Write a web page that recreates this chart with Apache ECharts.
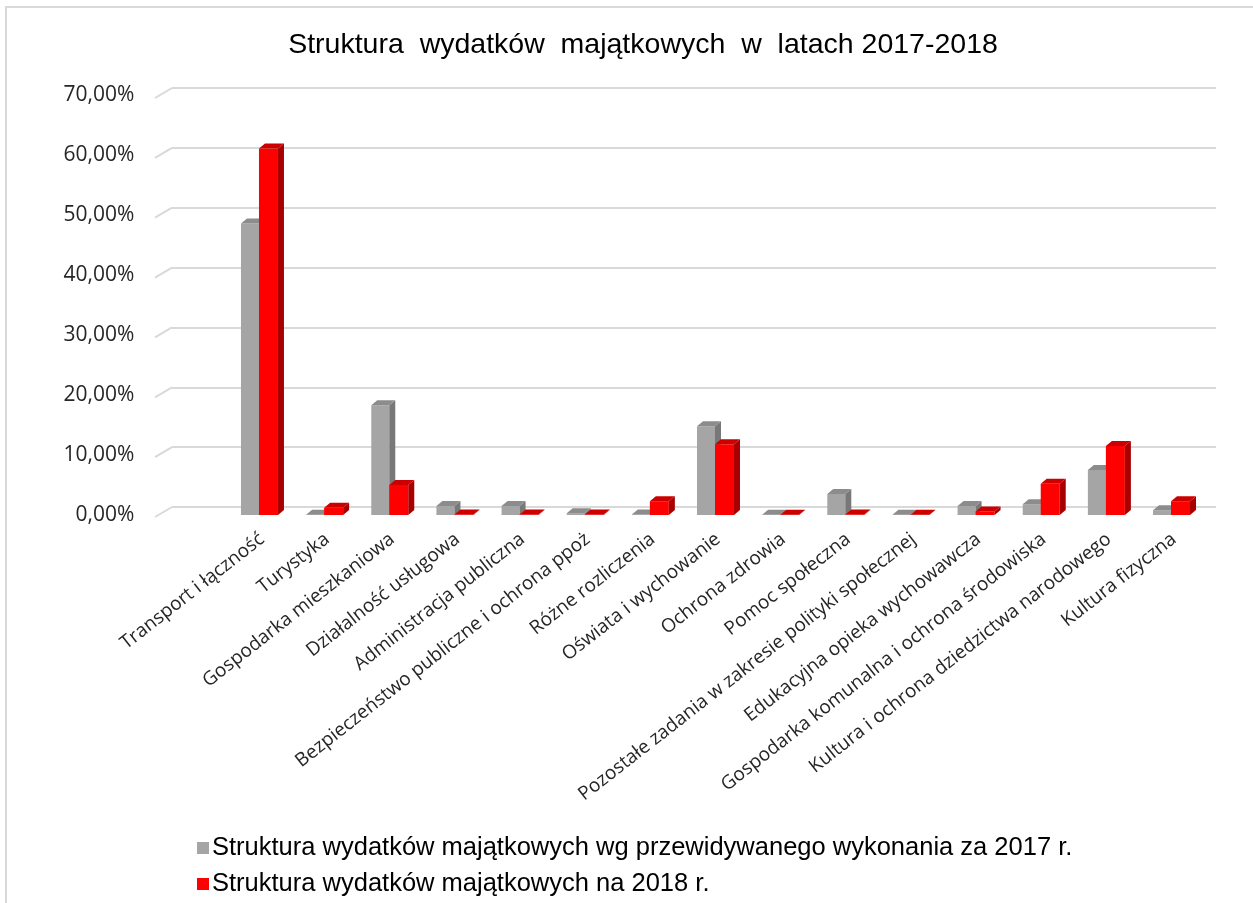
<!DOCTYPE html>
<html>
<head>
<meta charset="utf-8">
<script src="https://cdn.jsdelivr.net/npm/echarts@6/dist/echarts.min.js"></script>
<style>
  html, body { margin: 0; padding: 0; background: #fff; }
  #chart { width: 1253px; height: 903px; }
</style>
</head>
<body>
<div id="chart"></div>
<script>
// --- data ---
const categories = [
  'Transport i łączność',
  'Turystyka',
  'Gospodarka mieszkaniowa',
  'Działalność usługowa',
  'Administracja publiczna',
  'Bezpieczeństwo publiczne i ochrona ppoż',
  'Różne rozliczenia',
  'Oświata i wychowanie',
  'Ochrona zdrowia',
  'Pomoc społeczna',
  'Pozostałe zadania w zakresie polityki społecznej',
  'Edukacyjna opieka wychowawcza',
  'Gospodarka komunalna i ochrona środowiska',
  'Kultura i ochrona dziedzictwa narodowego',
  'Kultura fizyczna'
];
const values2017 = [48.6, 0.05, 18.3, 1.5, 1.5, 0.3, 0.1, 14.8, 0.05, 3.5, 0.05, 1.5, 1.8, 7.5, 0.8];
const values2018 = [61.1, 1.2, 5.0, 0.1, 0.1, 0.1, 2.3, 11.8, 0.05, 0.1, 0.05, 0.6, 5.2, 11.5, 2.3];
const seriesNames = [
  'Struktura wydatków majątkowych wg przewidywanego wykonania za 2017 r.',
  'Struktura wydatków majątkowych na 2018 r.'
];
const yTicks = [0, 10, 20, 30, 40, 50, 60, 70];

const palette = [
  { front: '#a5a5a5', side: '#787878', top: '#8c8c8c' },
  { front: '#ff0000', side: '#a80000', top: '#cc0000' }
];
const gridColor = '#d9d9d9';

const chart = echarts.init(document.getElementById('chart'));

// pseudo-3D bar: front face, right side, top face
function renderBar3d(params, api) {
  const idx = api.value(0);
  const base = api.coord([idx, 0]);
  const top = api.coord([idx, api.value(1)]);
  const s = params.seriesIndex;
  const w = s === 0 ? 18 : 19;
  const x0 = base[0] + (s === 0 ? -21 : -3);
  const x1 = x0 + w;
  const yb = base[1];
  const yt = Math.min(top[1], yb);
  const dx = 6, dy = 5;
  const c = palette[s];
  return {
    type: 'group',
    children: [
      {
        type: 'rect',
        shape: { x: x0, y: yt, width: w, height: yb - yt },
        style: { fill: c.front }
      },
      {
        type: 'polygon',
        shape: { points: [[x1, yt], [x1 + dx, yt - dy], [x1 + dx, yb - dy], [x1, yb]] },
        style: { fill: c.side }
      },
      {
        type: 'polygon',
        shape: { points: [[x0, yt], [x0 + dx, yt - dy], [x1 + dx, yt - dy], [x1, yt]] },
        style: { fill: c.top }
      }
    ]
  };
}

// short slanted piece of each gridline on the left side wall
function renderWallTick(params, api) {
  const p = api.coord([0, api.value(0)]);
  const x = params.coordSys.x;
  return {
    type: 'line',
    shape: { x1: x, y1: p[1], x2: x - 17, y2: p[1] + 10 },
    style: { stroke: gridColor, lineWidth: 2 }
  };
}

const option = {
  animation: false,
  backgroundColor: '#fff',
  title: {
    text: 'Struktura  wydatków  majątkowych  w  latach 2017-2018',
    left: 638,
    textAlign: 'center',
    top: 26,
    textStyle: {
      fontFamily: '"Liberation Sans", Arial, sans-serif',
      fontSize: 28.5,
      fontWeight: 'normal',
      color: '#000'
    }
  },
  legend: {
    orient: 'vertical',
    left: 197,
    top: 835,
    padding: 0,
    itemGap: 10,
    itemWidth: 12,
    itemHeight: 12,
    icon: 'rect',
    data: seriesNames,
    textStyle: {
      fontFamily: '"Liberation Sans", Arial, sans-serif',
      fontSize: 25.5,
      color: '#000',
      padding: [0, 0, 0, -2]
    }
  },
  graphic: [
    {
      type: 'polyline',
      shape: { points: [[6, 903], [6, 7], [1253, 7]] },
      style: { stroke: gridColor, lineWidth: 2, fill: null },
      silent: true
    }
  ],
  grid: [
    // back wall with gridlines
    { left: 172, right: 37, top: 88, bottom: 396, containLabel: false },
    // bars
    { left: 229.4, right: 46.4, top: 95, bottom: 388, containLabel: false }
  ],
  xAxis: [
    {
      gridIndex: 0, type: 'category', data: categories,
      axisLine: { show: false }, axisTick: { show: false }, axisLabel: { show: false }
    },
    {
      gridIndex: 1, type: 'category', data: categories,
      axisLine: { show: false },
      axisTick: { show: false },
      axisLabel: {
        interval: 0,
        rotate: 38,
        margin: 22,
        fontFamily: '"Open Sans", sans-serif',
        fontSize: 19,
        color: '#262626'
      }
    }
  ],
  yAxis: [
    {
      gridIndex: 0, type: 'value', min: 0, max: 70, interval: 10,
      axisLabel: { show: false },
      axisLine: { show: false }, axisTick: { show: false },
      splitLine: { lineStyle: { color: gridColor, width: 2 } }
    },
    {
      gridIndex: 1, type: 'value', min: yTicks[0], max: yTicks[yTicks.length - 1], interval: 10,
      axisLine: { show: false }, axisTick: { show: false },
      splitLine: { show: false },
      axisLabel: {
        margin: 95,
        fontFamily: '"Open Sans", sans-serif',
        fontSize: 21,
        color: '#262626',
        formatter: (v) => v.toFixed(2).replace('.', ',') + '%'
      }
    }
  ],
  series: [
    ...[values2017, values2018].map((vals, s) => ({
      name: seriesNames[s],
      type: 'custom',
      xAxisIndex: 1,
      yAxisIndex: 1,
      renderItem: renderBar3d,
      itemStyle: { color: palette[s].front },
      encode: { x: 0, y: 1 },
      data: vals.map((v, i) => [i, v]),
      clip: false,
      z: 3
    })),
    {
      name: 'wall',
      type: 'custom',
      xAxisIndex: 0,
      yAxisIndex: 0,
      renderItem: renderWallTick,
      encode: { y: 0 },
      data: yTicks.map((t) => [t]),
      clip: false,
      silent: true,
      z: 1
    }
  ]
};

chart.setOption(option);
</script>
</body>
</html>
